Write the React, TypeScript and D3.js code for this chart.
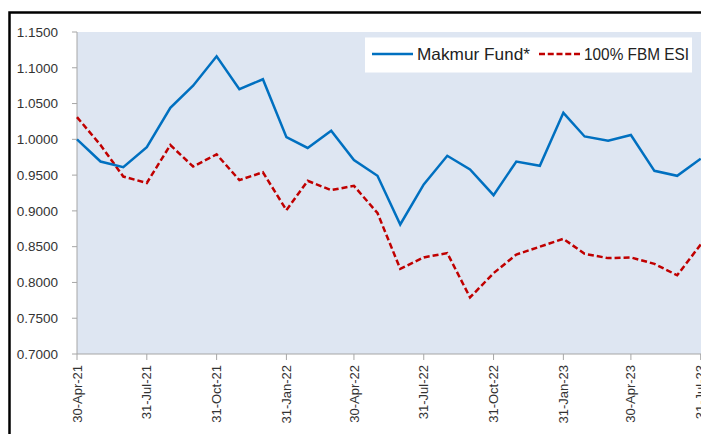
import * as d3 from "d3"

// month-end dates, Apr-21 .. Jul-23
const dates = [
  "2021-04-30", "2021-05-31", "2021-06-30", "2021-07-31", "2021-08-31", "2021-09-30",
  "2021-10-31", "2021-11-30", "2021-12-31", "2022-01-31", "2022-02-28", "2022-03-31",
  "2022-04-30", "2022-05-31", "2022-06-30", "2022-07-31", "2022-08-31", "2022-09-30",
  "2022-10-31", "2022-11-30", "2022-12-31", "2023-01-31", "2023-02-28", "2023-03-31",
  "2023-04-30", "2023-05-31", "2023-06-30", "2023-07-31"
]

const makmurFund = [
  1.000, 0.969, 0.961, 0.989, 1.044, 1.075, 1.116, 1.070, 1.084, 1.003, 0.988, 1.012,
  0.971, 0.949, 0.881, 0.937, 0.977, 0.958, 0.922, 0.969, 0.963, 1.037, 1.004, 0.998,
  1.006, 0.956, 0.949, 0.973
]

const fbmEsi = [
  1.031, 0.992, 0.948, 0.939, 0.992, 0.962, 0.979, 0.943, 0.954, 0.901, 0.942, 0.929,
  0.935, 0.897, 0.819, 0.835, 0.841, 0.779, 0.813, 0.839, 0.850, 0.861, 0.840, 0.834,
  0.835, 0.826, 0.810, 0.853
]

const xTickDates = [
  "2021-04-30", "2021-07-31", "2021-10-31", "2022-01-31", "2022-04-30",
  "2022-07-31", "2022-10-31", "2023-01-31", "2023-04-30", "2023-07-31"
]

const yTicks = [0.7, 0.75, 0.8, 0.85, 0.9, 0.95, 1.0, 1.05, 1.1, 1.15]

const seriesNames = ["Makmur Fund*", "100% FBM ESI"]

const W = 701
const H = 434
const plotLeft = 77
const plotTop = 32
const plotBottom = 354
const FONT = "'Liberation Sans', Arial, sans-serif"

const parse = d3.utcParse("%Y-%m-%d")
const fmtDate = d3.utcFormat("%d-%b-%y")
const fmtY = d3.format(".4f")

export default function App() {
  const x = d3.scaleUtc()
    .domain([parse(dates[0])!, parse(dates[dates.length - 1])!])
    .range([plotLeft, 700.7])

  const y = d3.scaleLinear().domain([0.7, 1.15]).range([plotBottom, plotTop])

  const line = d3.line<number>()
    .x((_, i) => x(parse(dates[i])!))
    .y(d => y(d))

  return (
    <svg width={W} height={H} style={{ position: "absolute", left: 0, top: 0 }} fontFamily={FONT}>
      <rect x={0} y={0} width={W} height={H} fill="#fff" />
      {/* outer chart frame, runs past the crop on right and bottom */}
      <rect x={9.5} y={12.5} width={W + 20} height={H + 20} fill="none" stroke="#000" strokeWidth={2.5} />

      {/* plot area */}
      <rect x={plotLeft} y={plotTop} width={W - plotLeft} height={plotBottom - plotTop} fill="#dee6f2" />

      {/* y axis */}
      <line x1={plotLeft} x2={plotLeft} y1={plotTop} y2={plotBottom} stroke="#a6a6a6" strokeWidth={1} />
      {yTicks.map(t => (
        <g key={t}>
          <line x1={plotLeft - 5} x2={plotLeft} y1={y(t)} y2={y(t)} stroke="#a6a6a6" />
          <text x={58} y={y(t)} dy="0.35em" textAnchor="end" fontSize={13.5} fill="#333">{fmtY(t)}</text>
        </g>
      ))}

      {/* x axis */}
      <line x1={plotLeft} x2={W} y1={plotBottom} y2={plotBottom} stroke="#a6a6a6" strokeWidth={1} />
      {xTickDates.map(s => {
        const xv = x(parse(s)!)
        return (
          <g key={s}>
            <line x1={xv} x2={xv} y1={plotBottom} y2={plotBottom + 6} stroke="#a6a6a6" />
            <text transform={`translate(${xv},${plotBottom + 11}) rotate(-90)`} dy="0.35em"
              textAnchor="end" fontSize={13} fill="#333">{fmtDate(parse(s)!)}</text>
          </g>
        )
      })}

      {/* series */}
      <path d={line(fbmEsi) ?? ""} fill="none" stroke="#c00000" strokeWidth={2.5} strokeDasharray="6,3" />
      <path d={line(makmurFund) ?? ""} fill="none" stroke="#0070c0" strokeWidth={2.5} />

      {/* legend */}
      <rect x={365} y={37.5} width={327} height={35} fill="#fff" />
      <line x1={372} x2={413} y1={54} y2={54} stroke="#0070c0" strokeWidth={2.5} />
      <text x={417} y={54} dy="0.35em" fontSize={16.5} fill="#222"
        textLength={113} lengthAdjust="spacingAndGlyphs">{seriesNames[0]}</text>
      <line x1={539} x2={580} y1={54} y2={54} stroke="#c00000" strokeWidth={2.5} strokeDasharray="6,2.75" />
      <text x={584} y={54} dy="0.35em" fontSize={16.5} fill="#222"
        textLength={105} lengthAdjust="spacingAndGlyphs">{seriesNames[1]}</text>
    </svg>
  )
}
